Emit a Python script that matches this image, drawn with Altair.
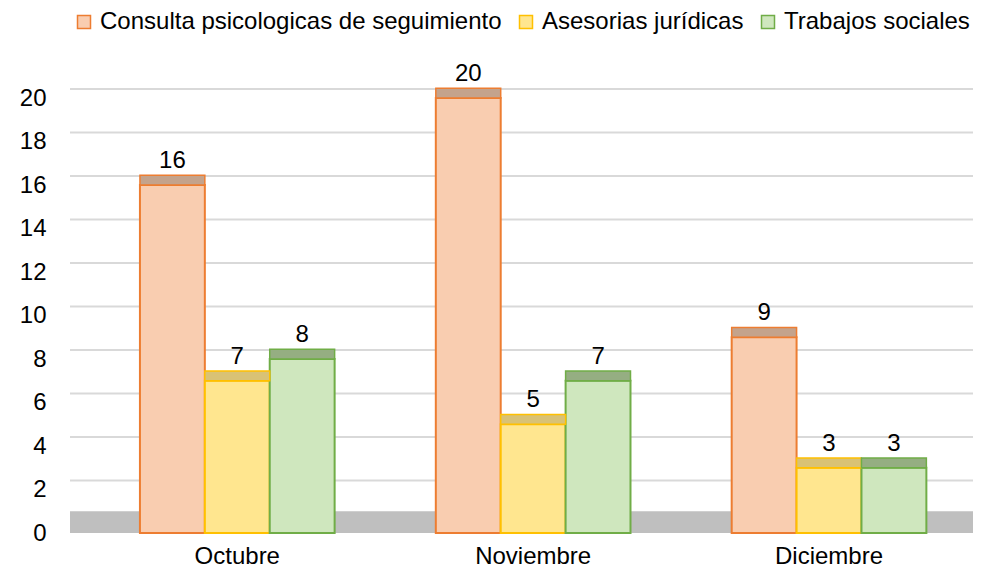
import altair as alt
import pandas as pd

months = ["Octubre", "Noviembre", "Diciembre"]
series = ["Consulta psicologicas de seguimiento", "Asesorias jurídicas", "Trabajos sociales"]
consulta = [16, 20, 9]
asesorias = [7, 5, 3]
trabajos = [8, 7, 3]
grid_values = [2, 4, 6, 8, 10, 12, 14, 16, 18, 20]

rows = []
for i, m in enumerate(months):
    for s, vals in zip(series, [consulta, asesorias, trabajos]):
        rows.append({"Mes": m, "Serie": s, "Valor": vals[i]})
df = pd.DataFrame(rows)

fills = ["#F9CDB0", "#FFE68F", "#CFE7BE"]
strokes = ["#ED7D31", "#FFC000", "#70AD47"]
tops = ["#C4A38C", "#D9C275", "#95AE82"]
FONT = "Liberation Sans"
DEPTH = 0.45

yscale = alt.Scale(domain=[0, 20], nice=False)
xscale = alt.Scale(domain=months, paddingInner=0.342, paddingOuter=0.197, align=0.6)
offscale = alt.Scale(domain=series, paddingInner=0, paddingOuter=0)

xenc = alt.X("Mes:N", sort=months, title=None, scale=xscale,
             axis=alt.Axis(labelAngle=0, labelFontSize=24, labelFont=FONT, labelColor="#000000",
                           domain=False, ticks=False, grid=False, labelPadding=11))

grid = alt.Chart(pd.DataFrame({"g": grid_values})).mark_rule(
    color="#D9D9D9", strokeWidth=2, yOffset=-9).encode(
    y=alt.Y("g:Q", scale=yscale, title=None,
            axis=alt.Axis(values=list(range(0, 21, 2)), labelFontSize=24, labelFont=FONT,
                          labelColor="#000000", domain=False, ticks=False, grid=False,
                          labelPadding=24)))

floor_df = pd.DataFrame({"y0": [0], "y1": [1.0]})
floor = alt.Chart(floor_df).mark_rect(color="#BFBFBF").encode(
    y=alt.Y("y0:Q", scale=yscale), y2="y1:Q")

bars = alt.Chart(df).mark_bar(strokeWidth=2, fillOpacity=1).encode(
    x=xenc,
    xOffset=alt.XOffset("Serie:N", sort=series, scale=offscale),
    y=alt.Y("Valor:Q", scale=yscale),
    fill=alt.Fill("Serie:N", sort=series, scale=alt.Scale(domain=series, range=fills),
                  legend=alt.Legend(title=None, orient="none", direction="horizontal",
                                    legendX=2, legendY=-88,
                                    labelFontSize=24, labelFont=FONT, labelColor="#000000",
                                    symbolType="square", symbolSize=169, symbolStrokeWidth=1.5,
                                    columnPadding=12, labelOffset=4, labelLimit=600)),
    stroke=alt.Stroke("Serie:N", sort=series, scale=alt.Scale(domain=series, range=strokes),
                      legend=None),
)

caps = alt.Chart(df).transform_calculate(top="datum.Valor + %f" % DEPTH).mark_bar(
    strokeWidth=1.5).encode(
    x=alt.X("Mes:N", sort=months, scale=xscale),
    xOffset=alt.XOffset("Serie:N", sort=series, scale=offscale),
    y=alt.Y("Valor:Q", scale=yscale),
    y2="top:Q",
    color=alt.Color("Serie:N", sort=series, scale=alt.Scale(domain=series, range=tops), legend=None),
    stroke=alt.Stroke("Serie:N", sort=series, scale=alt.Scale(domain=series, range=strokes),
                      legend=None),
)

labels = alt.Chart(df).mark_text(fontSize=24, font=FONT, color="#000000", dy=-12,
                                 baseline="bottom").encode(
    x=alt.X("Mes:N", sort=months, scale=xscale),
    xOffset=alt.XOffset("Serie:N", sort=series, scale=offscale),
    y=alt.Y("Valor:Q", scale=yscale),
    text="Valor:Q",
)

chart = alt.layer(grid, floor, bars, caps, labels).resolve_scale(color="independent").properties(
    width=903, height=435,
    autosize=alt.AutoSizeParams(type="none"),
    padding={"left": 62, "right": 0, "top": 90, "bottom": 38},
).configure_view(stroke=None)

chart.save("out.html", embed_options={"renderer": "svg", "actions": False})
